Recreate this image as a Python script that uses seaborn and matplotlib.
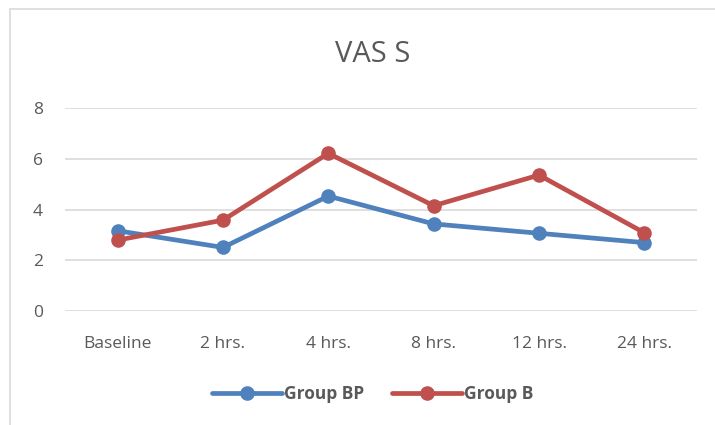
import pandas as pd
import matplotlib.pyplot as plt
import seaborn as sns
from matplotlib.patches import Rectangle

# data
times = ["Baseline", "2 hrs.", "4 hrs.", "8 hrs.", "12 hrs.", "24 hrs."]
group_bp = [3.16, 2.5, 4.53, 3.43, 3.06, 2.69]
group_b = [2.79, 3.58, 6.22, 4.15, 5.36, 3.08]

df = pd.DataFrame({
    "time": times * 2,
    "value": group_bp + group_b,
    "group": ["Group BP"] * len(times) + ["Group B"] * len(times),
})

sns.set_style("white")
plt.rcParams['font.family'] = ['Open Sans', 'DejaVu Sans']
text_col = "#595959"

fig = plt.figure(figsize=(7.15, 4.25), dpi=100)
ax = fig.add_axes([65 / 715, 1 - 310.7 / 425, 632 / 715, (310.7 - 108.3) / 425])

# chart frame
fig.patches.append(Rectangle((10 / 715, -0.1), 1.0, 1 - 9 / 425 + 0.1,
                             transform=fig.transFigure, fill=False,
                             edgecolor="#d9d9d9", linewidth=1.2))

sns.lineplot(data=df, x="time", y="value", hue="group",
             palette={"Group BP": "#4F81BD", "Group B": "#C0504D"},
             marker="o", markersize=10.5, markeredgewidth=0, linewidth=3.4,
             sort=False, ax=ax)

ax.set_xlim(-0.5, 5.5)
ax.set_ylim(0, 8)
ax.set_yticks([0, 2, 4, 6, 8])
ax.yaxis.grid(True, color="#d9d9d9", linewidth=1.2)
ax.set_axisbelow(True)
for s in ax.spines.values():
    s.set_visible(False)
ax.set_xlabel("")
ax.set_ylabel("")
ax.tick_params(axis="both", length=0, labelsize=12.5, colors=text_col)
ax.tick_params(axis="x", pad=18)
ax.tick_params(axis="y", pad=16)

fig.text(373 / 715, 1 - 55 / 425, "VAS S", ha="center", va="center",
         fontsize=21, color=text_col)

leg = ax.legend(loc="center", bbox_to_anchor=(373 / 715, 1 - 394 / 425),
                bbox_transform=fig.transFigure, ncol=2, frameon=False,
                handlelength=4.0, columnspacing=1.6, handletextpad=0.15,
                prop={"weight": "bold", "size": 12.5})
for t in leg.get_texts():
    t.set_color(text_col)

fig.savefig("out.png", dpi=100)
